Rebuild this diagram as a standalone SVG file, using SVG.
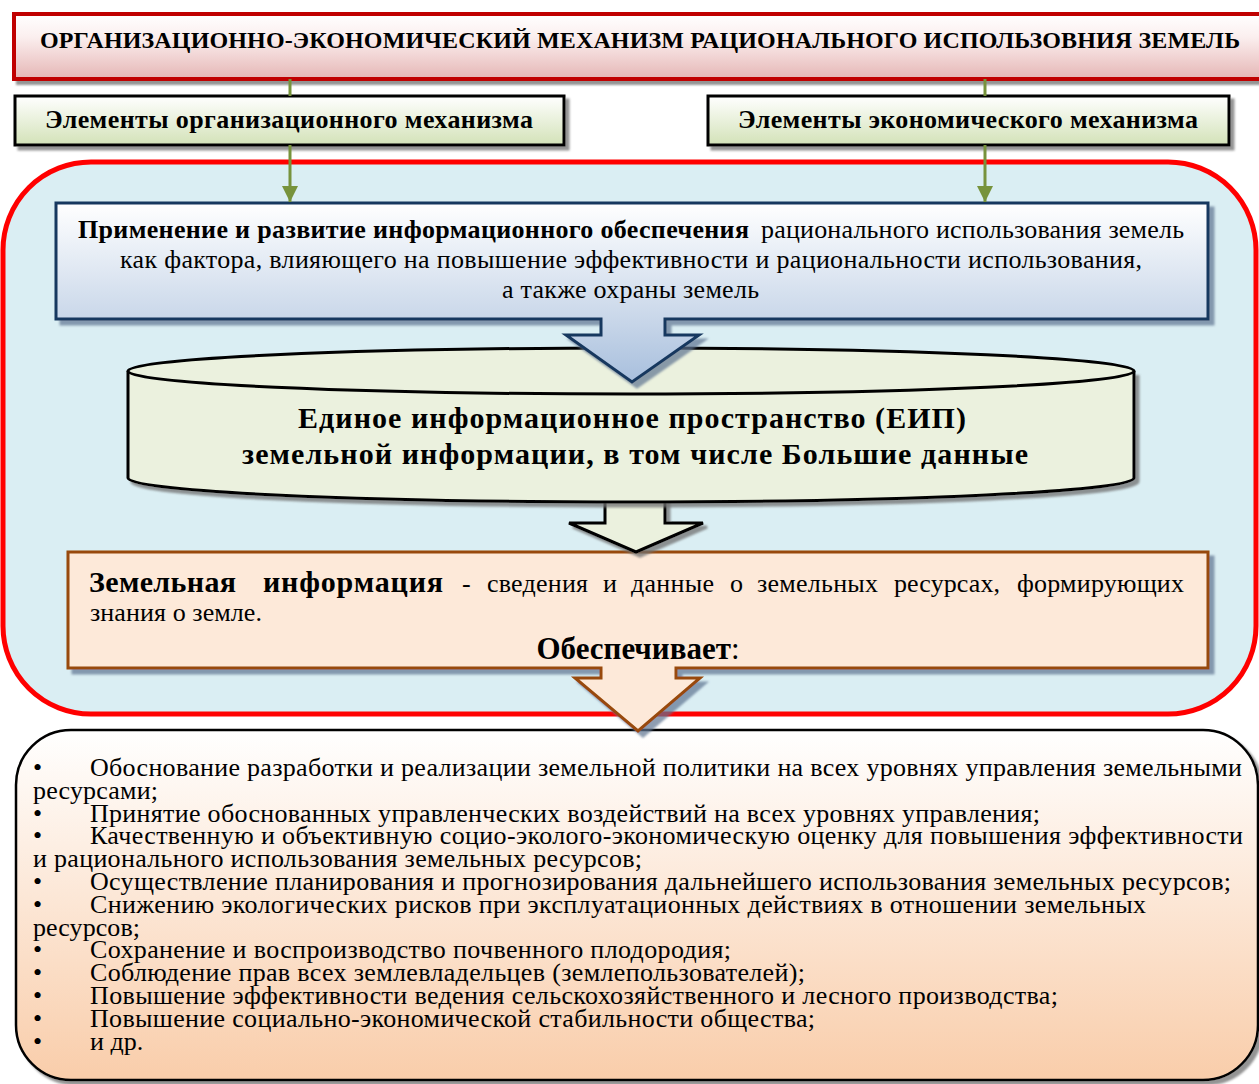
<svg xmlns="http://www.w3.org/2000/svg" width="1259" height="1084" viewBox="0 0 1259 1084" font-family="'Liberation Serif', 'DejaVu Serif Condensed', 'DejaVu Serif', serif">
  <defs>
    <linearGradient id="gTitle" x1="0" y1="0" x2="0" y2="1">
      <stop offset="0" stop-color="#ffffff"/>
      <stop offset="0.35" stop-color="#fbefef"/>
      <stop offset="1" stop-color="#e5b6b5"/>
    </linearGradient>
    <linearGradient id="gElem" x1="0" y1="0" x2="0" y2="1">
      <stop offset="0" stop-color="#ffffff"/>
      <stop offset="1" stop-color="#d3e2b8"/>
    </linearGradient>
    <linearGradient id="gBlue" gradientUnits="userSpaceOnUse" x1="0" y1="203" x2="0" y2="382">
      <stop offset="0" stop-color="#ffffff"/>
      <stop offset="0.6" stop-color="#cddaeb"/>
      <stop offset="1" stop-color="#a8bfdd"/>
    </linearGradient>
    <linearGradient id="gList" x1="0" y1="0" x2="0" y2="1">
      <stop offset="0" stop-color="#ffffff"/>
      <stop offset="1" stop-color="#f9cdaa"/>
    </linearGradient>
    <filter id="shadow" x="-5%" y="-5%" width="115%" height="130%">
      <feDropShadow dx="4" dy="4" stdDeviation="1.2" flood-color="#6f6f6f" flood-opacity="0.75"/>
    </filter>
    <filter id="shadowBlue" x="-5%" y="-5%" width="115%" height="130%">
      <feDropShadow dx="5" dy="5" stdDeviation="1.2" flood-color="#5f7390" flood-opacity="0.7"/>
    </filter>
    <!-- arrowhead drawn along +x, rotated to the line direction -->
    <marker id="arrowGreen" markerUnits="userSpaceOnUse" markerWidth="16" markerHeight="16" refX="14" refY="7" orient="auto" viewBox="0 0 14 14">
      <path d="M0,0 L14,7 L0,14 Z" fill="#77933c"/>
    </marker>
    <style>
      text { font-family: "Liberation Serif", "DejaVu Serif Condensed", "DejaVu Serif", serif; fill: #000; }
      .b { font-weight: bold; }
      .title { font-size: 24px; font-weight: bold; }
      .elem { font-size: 26px; font-weight: bold; }
      .body { font-size: 26px; }
      .cyl { font-size: 30px; font-weight: bold; }
      .list { font-size: 26px; }
      .conn { stroke: #77933c; stroke-width: 3; fill: none; }
    </style>
  </defs>

  <!-- header -->
  <g id="title">
    <rect x="14" y="14" width="1255" height="65" fill="url(#gTitle)" stroke="#c00000" stroke-width="4" filter="url(#shadow)"/>
    <text class="title" x="40" y="48" textLength="1200">ОРГАНИЗАЦИОННО-ЭКОНОМИЧЕСКИЙ МЕХАНИЗМ РАЦИОНАЛЬНОГО ИСПОЛЬЗОВНИЯ ЗЕМЕЛЬ</text>
  </g>

  <!-- list of outcomes -->
  <g id="outcomes">
    <rect x="16" y="730" width="1242" height="350" rx="55" ry="55" fill="url(#gList)" stroke="#000" stroke-width="2.5" filter="url(#shadow)"/>
    <g class="list">
      <text y="776"><tspan x="33">•</tspan><tspan x="90" textLength="1152">Обоснование разработки и реализации земельной политики на всех уровнях управления земельными</tspan></text>
      <text x="33" y="798.8" textLength="125">ресурсами;</text>
      <text y="821.6"><tspan x="33">•</tspan><tspan x="90" textLength="950">Принятие обоснованных управленческих воздействий на всех уровнях управления;</tspan></text>
      <text y="844.4"><tspan x="33">•</tspan><tspan x="90" textLength="1153">Качественную и объективную социо-эколого-экономическую оценку для повышения эффективности</tspan></text>
      <text x="33" y="867.2" textLength="609">и рационального использования земельных ресурсов;</text>
      <text y="890"><tspan x="33">•</tspan><tspan x="90" textLength="1141">Осуществление планирования и прогнозирования дальнейшего использования земельных ресурсов;</tspan></text>
      <text y="912.8"><tspan x="33">•</tspan><tspan x="90" textLength="1056">Снижению экологических рисков при эксплуатационных действиях в отношении земельных</tspan></text>
      <text x="33" y="935.6" textLength="107">ресурсов;</text>
      <text y="958.4"><tspan x="33">•</tspan><tspan x="90" textLength="641">Сохранение и воспроизводство почвенного плодородия;</tspan></text>
      <text y="981.2"><tspan x="33">•</tspan><tspan x="90" textLength="715">Соблюдение прав всех землевладельцев (землепользователей);</tspan></text>
      <text y="1004"><tspan x="33">•</tspan><tspan x="90" textLength="968">Повышение эффективности ведения сельскохозяйственного и лесного производства;</tspan></text>
      <text y="1026.8"><tspan x="33">•</tspan><tspan x="90" textLength="725">Повышение социально-экономической стабильности общества;</tspan></text>
      <text y="1049.6"><tspan x="33">•</tspan><tspan x="90">и др.</tspan></text>
    </g>
  </g>

  <!-- information framework panel -->
  <g id="panel">
    <rect x="3" y="162" width="1253" height="552" rx="88" ry="88" fill="#daeef3" stroke="#ff0000" stroke-width="5"/>
  </g>

  <!-- element boxes -->
  <g id="elem-org">
    <rect x="15" y="96" width="549" height="49" fill="url(#gElem)" stroke="#000" stroke-width="3" filter="url(#shadow)"/>
    <text class="elem" x="45" y="128" textLength="488">Элементы организационного механизма</text>
  </g>
  <g id="elem-econ">
    <rect x="708" y="96" width="521" height="49" fill="url(#gElem)" stroke="#000" stroke-width="3" filter="url(#shadow)"/>
    <text class="elem" x="738" y="128" textLength="460">Элементы экономического механизма</text>
  </g>

  <!-- land information box with down-arrow callout -->
  <g id="land-info">
    <path d="M68,552 H1208 V668 H676 V678 H700 L638,731 L575,678 H601 V668 H68 Z" fill="#fde9d9" stroke="#984807" stroke-width="3" stroke-linejoin="miter" filter="url(#shadowBlue)"/>
    <g class="body">
      <text class="b" x="89" y="592" textLength="147" style="font-size:30px">Земельная</text>
      <text class="b" x="263" y="592" textLength="180" style="font-size:30px">информация</text>
      <text x="462" y="592">-</text>
      <text x="487" y="592" textLength="101">сведения</text>
      <text x="603" y="592">и</text>
      <text x="631" y="592" textLength="83">данные</text>
      <text x="730" y="592">о</text>
      <text x="757" y="592" textLength="121">земельных</text>
      <text x="894" y="592" textLength="106">ресурсах,</text>
      <text x="1017" y="592" textLength="167">формирующих</text>
      <text x="90" y="621" textLength="172">знания о земле.</text>
      <text x="638" y="659" text-anchor="middle" style="font-size:31px"><tspan class="b">Обеспечивает</tspan>:</text>
    </g>
  </g>

  <!-- arrow from the information space to land information -->
  <g id="arrow-eip">
    <path d="M605,494 H665 V523 H703 L636,552 L569,523 H605 Z" fill="#ebf1de" stroke="#000" stroke-width="3" filter="url(#shadow)"/>
  </g>

  <!-- unified information space (cylinder) -->
  <g id="eip">
    <path d="M128,371 V478 A503,24 0 0 0 1134,478 V371" fill="#ebf1de" stroke="#000" stroke-width="3" filter="url(#shadow)"/>
    <ellipse cx="631" cy="371" rx="503" ry="23" fill="#ebf1de" stroke="#000" stroke-width="3"/>
    <text class="cyl" x="298" y="428" textLength="668">Единое информационное пространство (ЕИП)</text>
    <text class="cyl" x="242" y="464" textLength="786">земельной информации, в том числе Большие данные</text>
  </g>

  <!-- information support box with down-arrow callout -->
  <g id="info-support">
    <path d="M56,203 H1208 V319 H665 V335 H699 L632,382 L566,335 H601 V319 H56 Z" fill="url(#gBlue)" stroke="#17375e" stroke-width="3" filter="url(#shadowBlue)"/>
    <text class="body b" x="78" y="238" textLength="671">Применение и развитие информационного обеспечения</text>
    <text class="body" x="761" y="238" textLength="423">рационального использования земель</text>
    <text class="body" x="120" y="268" textLength="1022">как фактора, влияющего на повышение эффективности и рациональности использования,</text>
    <text class="body" x="502" y="298" textLength="257">а также охраны земель</text>
  </g>

  <!-- connectors -->
  <g id="connectors">
    <line class="conn" x1="290" y1="79" x2="290" y2="96"/>
    <line class="conn" x1="985" y1="79" x2="985" y2="96"/>
    <line class="conn" x1="290" y1="145" x2="290" y2="202" marker-end="url(#arrowGreen)"/>
    <line class="conn" x1="985" y1="145" x2="985" y2="202" marker-end="url(#arrowGreen)"/>
  </g>
</svg>
